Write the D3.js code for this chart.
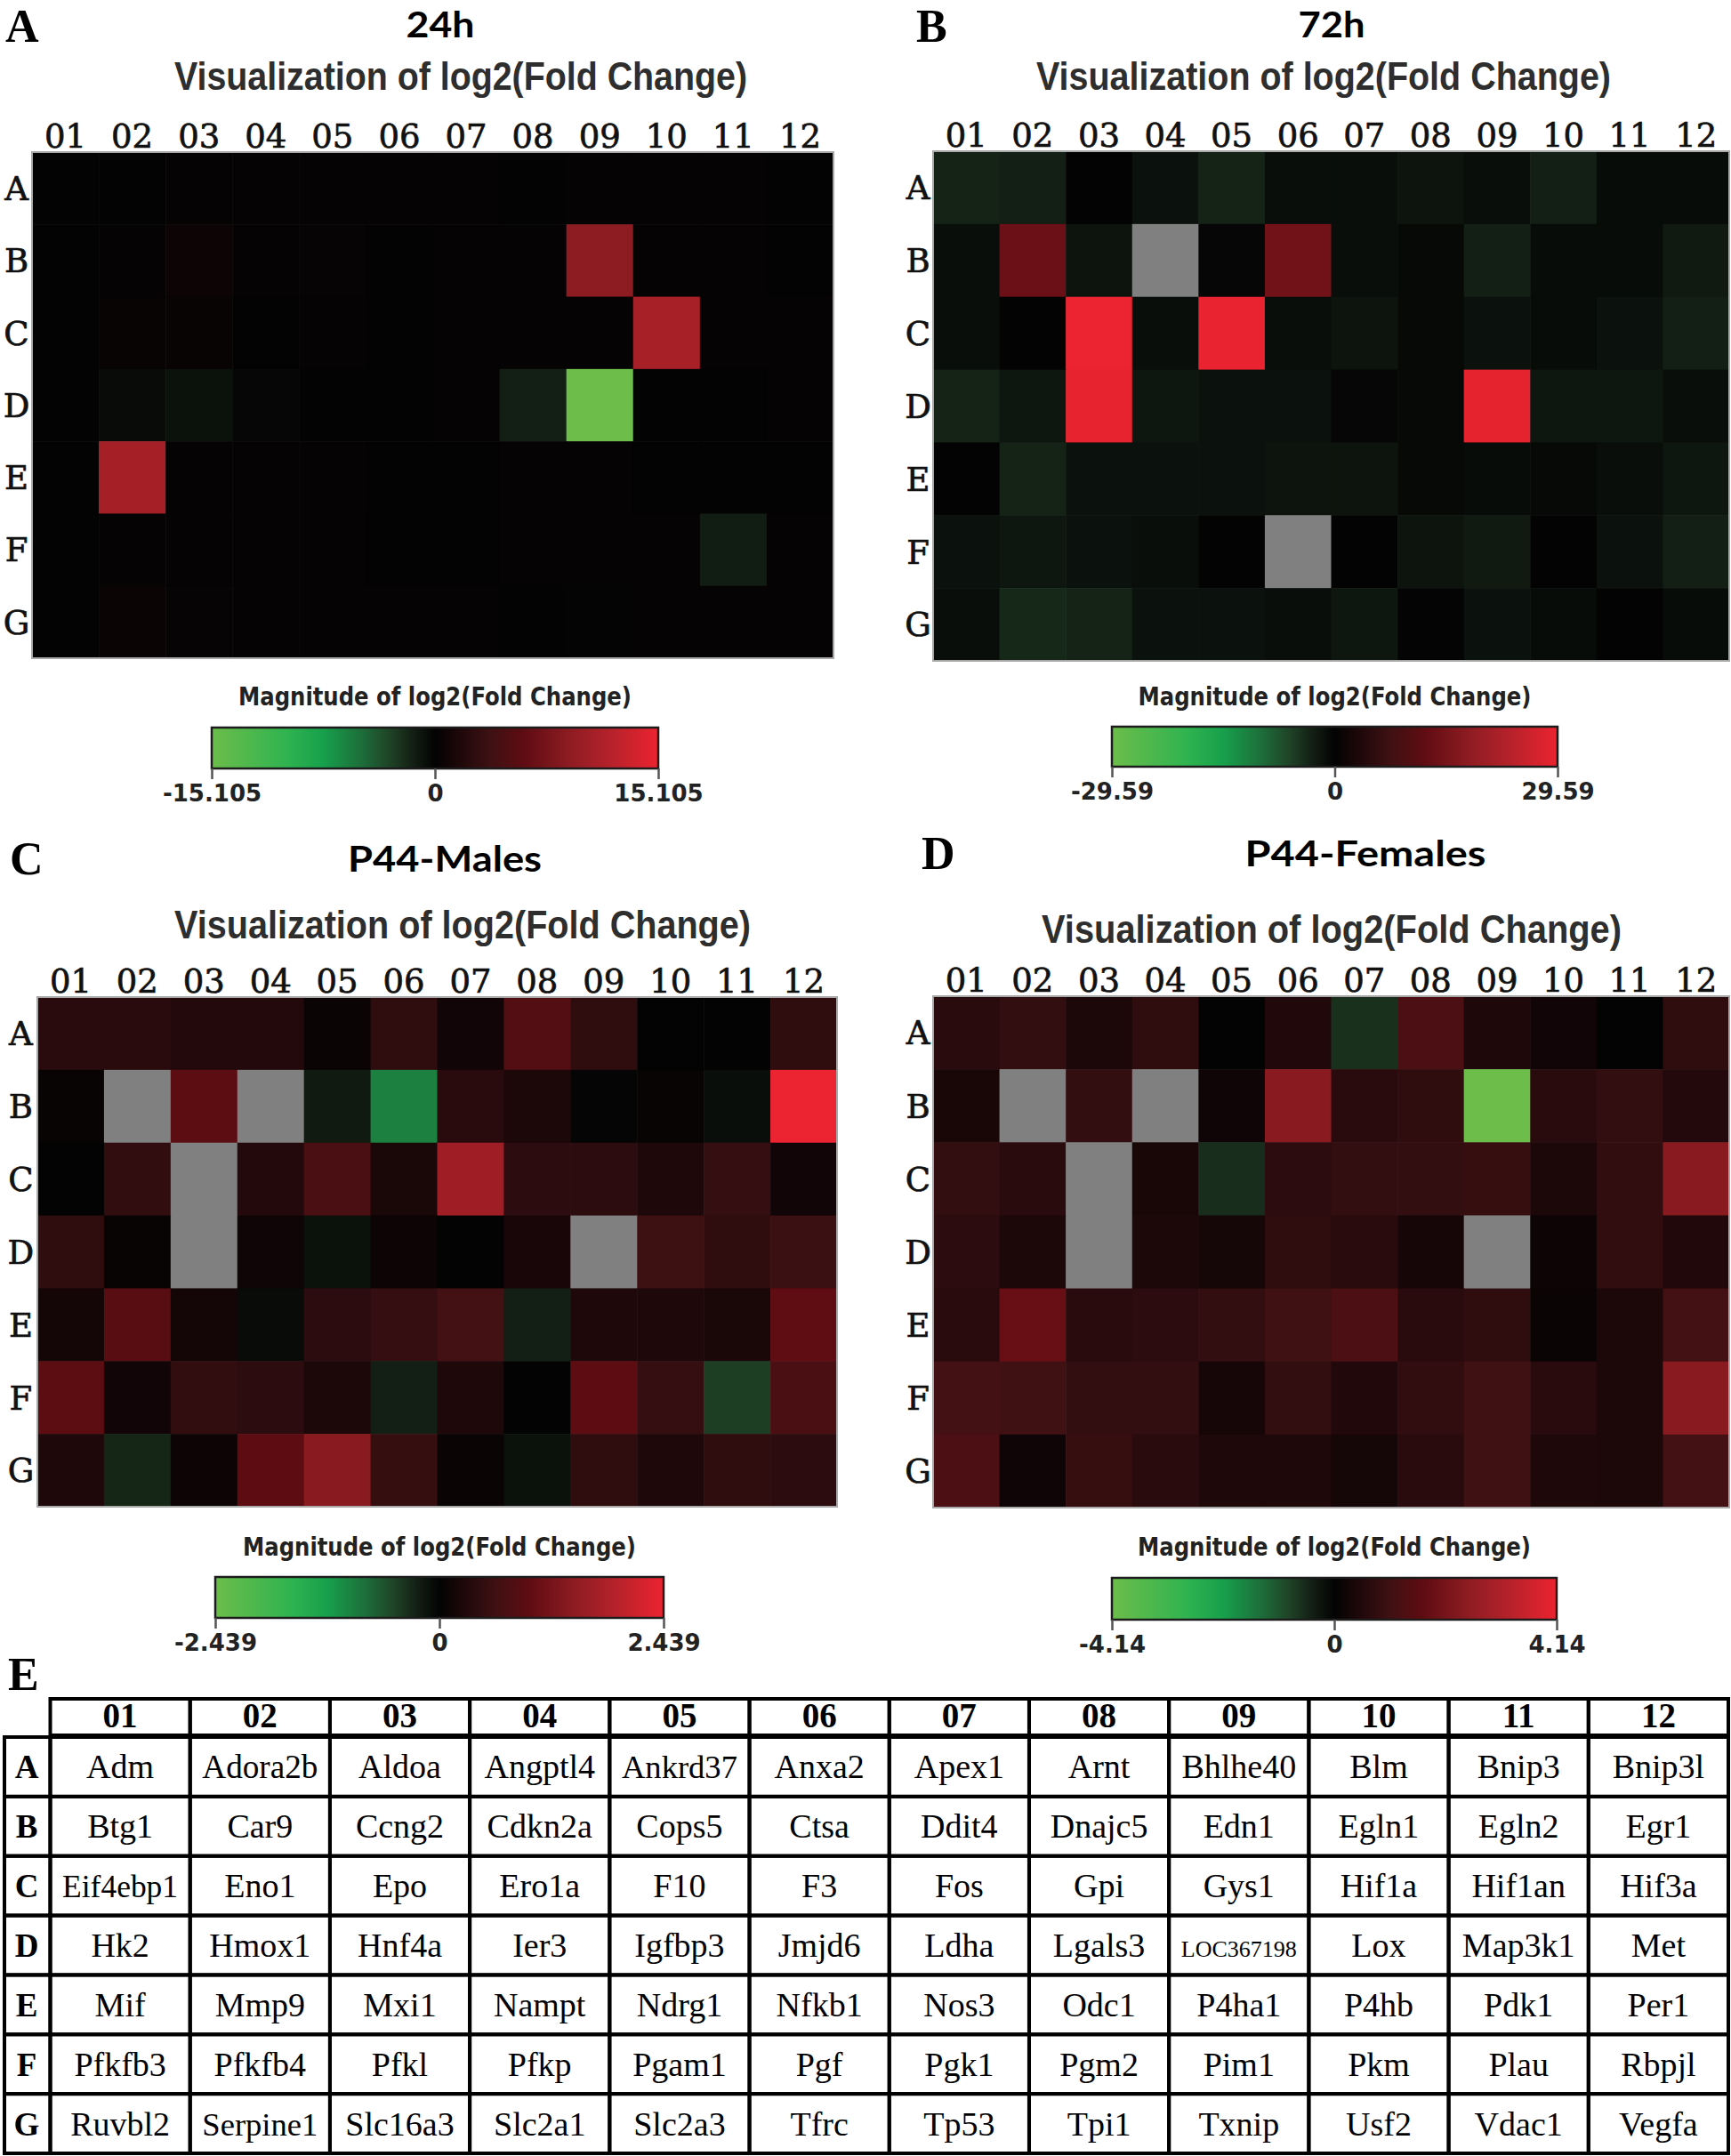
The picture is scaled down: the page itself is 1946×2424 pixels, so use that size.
<!DOCTYPE html>
<html>
<head>
<meta charset="utf-8">
<script src="https://cdn.jsdelivr.net/npm/d3@7"></script>
<style>
  body { margin: 0; background: #fff; }
  svg { display: block; }
</style>
</head>
<body>
<script>
// plate layout
const cols = ['01', '02', '03', '04', '05', '06', '07', '08', '09', '10', '11', '12'];
const rows = ['A', 'B', 'C', 'D', 'E', 'F', 'G'];

// log2(fold change) per well (null = grey / no call)
const fold24h = [
  [0.08, 0.05, 0.1, 0.1, 0.15, 0.1, 0.15, 0.05, 0.15, 0.15, 0.1, 0.05],
  [0.05, 0.1, 0.6, 0.1, 0.2, 0.05, 0.1, 0.1, 9.06, 0.15, 0.15, 0.05],
  [0.05, 0.3, 0.35, 0.05, 0.1, 0.05, 0.1, 0.15, 0.15, 10.9, 0.1, 0.15],
  [0.05, -0.45, -0.75, -0.15, 0.0, 0.05, 0.1, -1.5, -15.105, 0.0, 0.0, 0.1],
  [0.0, 10.7, 0.1, 0.1, 0.1, 0.05, 0.0, 0.15, 0.1, 0.0, 0.0, 0.05],
  [0.0, 0.1, 0.1, 0.1, 0.1, 0.0, 0.0, 0.15, 0.1, 0.1, -1.35, 0.1],
  [0.0, 0.5, 0.2, 0.1, 0.1, 0.1, 0.1, 0.0, -0.05, 0.1, 0.1, 0.1]
];
const fold72h = [
  [-3.3, -3.0, 0.0, -1.5, -3.3, -1.2, -1.2, -1.8, -1.2, -3.0, -0.9, -0.9],
  [-1.2, 13.3, -1.8, null, -0.3, 14.2, -1.2, -0.6, -3.0, -0.9, -0.9, -2.4],
  [-1.2, 0.0, 29.59, -1.2, 29.3, -1.2, -1.8, -0.6, -1.5, -0.9, -1.5, -3.0],
  [-3.3, -2.1, 29.0, -2.1, -1.5, -1.5, -0.3, -0.6, 28.7, -2.1, -2.1, -1.2],
  [0.0, -3.3, -1.5, -1.5, -1.5, -1.8, -1.8, -0.6, -0.9, -0.6, -1.2, -2.1],
  [-1.5, -2.1, -1.5, -1.2, 0.0, null, 0.0, -1.8, -2.4, 0.0, -1.5, -3.0],
  [-1.2, -3.8, -3.3, -1.5, -1.5, -1.2, -2.1, -0.1, -1.5, -0.9, 0.0, -0.9]
];
const foldMales = [
  [0.39, 0.39, 0.32, 0.32, 0.07, 0.44, 0.15, 0.83, 0.44, 0.0, 0.0, 0.44],
  [0.05, null, 0.93, null, -0.2, -0.95, 0.39, 0.24, -0.02, 0.05, -0.1, 2.439],
  [0.0, 0.46, null, 0.32, 0.73, 0.22, 1.66, 0.41, 0.41, 0.27, 0.49, 0.15],
  [0.44, 0.05, null, 0.12, -0.12, 0.1, 0.0, 0.2, null, 0.59, 0.44, 0.56],
  [0.17, 0.9, 0.17, -0.07, 0.41, 0.49, 0.66, -0.24, 0.27, 0.27, 0.22, 0.98],
  [0.93, 0.15, 0.46, 0.41, 0.24, -0.24, 0.27, 0.0, 0.95, 0.49, -0.46, 0.73],
  [0.27, -0.29, 0.1, 0.95, 1.41, 0.51, 0.07, -0.12, 0.44, 0.27, 0.44, 0.41]
];
const foldFemales = [
  [0.66, 0.83, 0.41, 0.75, 0.0, 0.5, -0.62, 1.28, 0.46, 0.25, 0.0, 0.75],
  [0.37, null, 0.83, null, 0.21, 2.4, 0.66, 0.75, -4.14, 0.66, 0.83, 0.54],
  [0.83, 0.66, null, 0.37, -0.58, 0.7, 0.83, 0.83, 0.87, 0.41, 0.79, 2.4],
  [0.7, 0.41, null, 0.41, 0.29, 0.75, 0.66, 0.33, null, 0.17, 0.79, 0.5],
  [0.66, 1.82, 0.66, 0.7, 0.83, 1.04, 1.28, 0.66, 0.75, 0.12, 0.41, 1.12],
  [1.12, 1.04, 0.83, 0.83, 0.33, 0.83, 0.5, 0.79, 1.04, 0.66, 0.41, 2.4],
  [1.28, 0.21, 0.87, 0.66, 0.46, 0.46, 0.29, 0.66, 1.04, 0.46, 0.41, 1.12]
];

const panelIds = ['A', 'B', 'C', 'D'];
const panelTitles = ['24h', '72h', 'P44-Males', 'P44-Females'];
const colorMax = [15.105, 29.59, 2.439, 4.14];

// colour bar stops, as a fraction of the bar's max
const gradFrac = [-1, -0.66, -0.5, -0.33, -0.2, -0.1, 0, 0.1, 0.25, 0.4, 0.6, 0.8, 1];
const gradColors = ['#6cbd4a', '#2fb350', '#17a04c', '#1d6e3a', '#1f4226', '#131f14', '#030303',
                    '#1c0709', '#3f1113', '#5f0c12', '#8d1c22', '#b9222b', '#ec2330'];

const genes = [
  ['Adm', 'Adora2b', 'Aldoa', 'Angptl4', 'Ankrd37', 'Anxa2', 'Apex1', 'Arnt', 'Bhlhe40', 'Blm', 'Bnip3', 'Bnip3l'],
  ['Btg1', 'Car9', 'Ccng2', 'Cdkn2a', 'Cops5', 'Ctsa', 'Ddit4', 'Dnajc5', 'Edn1', 'Egln1', 'Egln2', 'Egr1'],
  ['Eif4ebp1', 'Eno1', 'Epo', 'Ero1a', 'F10', 'F3', 'Fos', 'Gpi', 'Gys1', 'Hif1a', 'Hif1an', 'Hif3a'],
  ['Hk2', 'Hmox1', 'Hnf4a', 'Ier3', 'Igfbp3', 'Jmjd6', 'Ldha', 'Lgals3', 'LOC367198', 'Lox', 'Map3k1', 'Met'],
  ['Mif', 'Mmp9', 'Mxi1', 'Nampt', 'Ndrg1', 'Nfkb1', 'Nos3', 'Odc1', 'P4ha1', 'P4hb', 'Pdk1', 'Per1'],
  ['Pfkfb3', 'Pfkfb4', 'Pfkl', 'Pfkp', 'Pgam1', 'Pgf', 'Pgk1', 'Pgm2', 'Pim1', 'Pkm', 'Plau', 'Rbpjl'],
  ['Ruvbl2', 'Serpine1', 'Slc16a3', 'Slc2a1', 'Slc2a3', 'Tfrc', 'Tp53', 'Tpi1', 'Txnip', 'Usf2', 'Vdac1', 'Vegfa']
];

// where each panel sits on the page
const layout = [
  {letter: [6, 47], title: [495, 42, 77], sub: [518, 101, 644], hm: [36, 171, 937, 740], rowLabX: 18.5,
   bar: [238, 818, 740, 864], barTitleY: 793},
  {letter: [1030, 47], title: [1497, 42, 75], sub: [1488, 101, 646], hm: [1049, 170, 1944, 743], rowLabX: 1032,
   bar: [1250, 817, 1751, 862], barTitleY: 793},
  {letter: [11, 983], title: [500, 980, 218], sub: [520, 1055, 648], hm: [42, 1121, 941, 1694], rowLabX: 23.4,
   bar: [242, 1773, 746, 1819], barTitleY: 1749},
  {letter: [1036, 977], title: [1535, 974, 271], sub: [1497, 1060, 652], hm: [1049, 1120, 1944, 1695], rowLabX: 1032,
   bar: [1250, 1774, 1750, 1821], barTitleY: 1749}
];
const allValues = [fold24h, fold72h, foldMales, foldFemales];

const W = 1946, H = 2424;
const svg = d3.select('body').append('svg').attr('width', W).attr('height', H);
const defs = svg.append('defs');

function drawPanel(i) {
  const p = layout[i], values = allValues[i], max = colorMax[i];
  const g = svg.append('g');

  g.append('text')
    .attr('x', p.letter[0]).attr('y', p.letter[1])
    .attr('font-family', 'Liberation Serif').attr('font-weight', 'bold').attr('font-size', 52)
    .text(panelIds[i]);

  g.append('text')
    .attr('x', p.title[0]).attr('y', p.title[1])
    .attr('text-anchor', 'middle')
    .attr('font-family', 'Lato').attr('font-weight', 700).attr('font-size', 41)
    .attr('textLength', p.title[2]).attr('lengthAdjust', 'spacingAndGlyphs')
    .text(panelTitles[i]);

  g.append('text')
    .attr('x', p.sub[0]).attr('y', p.sub[1])
    .attr('text-anchor', 'middle')
    .attr('font-family', 'Liberation Sans').attr('font-weight', 'bold').attr('font-size', 44)
    .attr('fill', '#2e2e2e')
    .attr('textLength', p.sub[2]).attr('lengthAdjust', 'spacingAndGlyphs')
    .text('Visualization of log2(Fold Change)');

  const x = d3.scaleBand().domain(cols).range([p.hm[0], p.hm[2]]);
  const y = d3.scaleBand().domain(rows).range([p.hm[1], p.hm[3]]);
  const color = d3.scaleLinear()
    .domain(gradFrac.map(f => f * max))
    .range(gradColors)
    .clamp(true);

  const cells = values.flatMap((r, ri) => r.map((v, ci) => ({row: rows[ri], col: cols[ci], v: v})));

  g.append('g').selectAll('rect')
    .data(cells)
    .join('rect')
    .attr('x', d => x(d.col))
    .attr('y', d => y(d.row))
    .attr('width', x.bandwidth() + 0.6)
    .attr('height', y.bandwidth() + 0.6)
    .attr('fill', d => d.v == null ? '#808080' : color(d.v));

  g.append('rect')
    .attr('x', p.hm[0]).attr('y', p.hm[1])
    .attr('width', p.hm[2] - p.hm[0]).attr('height', p.hm[3] - p.hm[1])
    .attr('fill', 'none').attr('stroke', '#a8a8a8').attr('stroke-width', 2);

  // column numbers on top
  g.append('g')
    .attr('transform', `translate(0,${p.hm[1]})`)
    .call(d3.axisTop(x).tickSize(0).tickPadding(5))
    .call(a => a.select('.domain').remove())
    .selectAll('text')
    .attr('font-family', 'DejaVu Serif').attr('font-size', 37).attr('fill', '#111')
    .attr('stroke', '#111').attr('stroke-width', 0.7);

  // row letters on the left
  g.append('g')
    .attr('transform', `translate(${p.hm[0]},0)`)
    .call(d3.axisLeft(y).tickSize(0))
    .call(a => a.select('.domain').remove())
    .selectAll('text')
    .attr('x', p.rowLabX - p.hm[0])
    .attr('dy', '0.36em')
    .attr('text-anchor', 'middle')
    .attr('font-family', 'DejaVu Serif').attr('font-size', 37).attr('fill', '#111')
    .attr('stroke', '#111').attr('stroke-width', 0.7);

  // colour bar
  const b = p.bar;
  const gid = 'grad' + panelIds[i];
  const lg = defs.append('linearGradient').attr('id', gid);
  gradFrac.forEach((f, k) => {
    lg.append('stop').attr('offset', (f + 1) / 2).attr('stop-color', gradColors[k]);
  });

  g.append('text')
    .attr('x', (b[0] + b[2]) / 2).attr('y', p.barTitleY)
    .attr('text-anchor', 'middle')
    .attr('font-family', 'DejaVu Sans').attr('font-weight', 'bold').attr('font-size', 28)
    .attr('fill', '#222')
    .attr('textLength', 442).attr('lengthAdjust', 'spacingAndGlyphs')
    .text('Magnitude of log2(Fold Change)');

  g.append('rect')
    .attr('x', b[0]).attr('y', b[1])
    .attr('width', b[2] - b[0]).attr('height', b[3] - b[1])
    .attr('fill', `url(#${gid})`)
    .attr('stroke', '#1c1c1c').attr('stroke-width', 2.5);

  const cs = d3.scaleLinear().domain([-max, max]).range([b[0], b[2]]);
  const ax = g.append('g')
    .attr('transform', `translate(0,${b[3]})`)
    .call(d3.axisBottom(cs).tickValues([-max, 0, max]).tickSize(12).tickPadding(7)
      .tickFormat(d => d === 0 ? '0' : String(d)))
    .call(a => a.select('.domain').remove());
  ax.selectAll('line').attr('stroke', '#555').attr('stroke-width', 2.5);
  ax.selectAll('text')
    .attr('font-family', 'DejaVu Sans').attr('font-weight', 'bold').attr('font-size', 26)
    .attr('fill', '#222');
}

panelIds.forEach((id, i) => drawPanel(i));

// ---- panel E: gene table ----
const tg = svg.append('g');
tg.append('text')
  .attr('x', 9).attr('y', 1900)
  .attr('font-family', 'Liberation Serif').attr('font-weight', 'bold').attr('font-size', 52)
  .text('E');

const tx = d3.scaleBand().domain(cols).range([56.5, 1943]);
const ty = d3.scaleBand().domain(rows).range([1953, 2421]);
const lineW = 4;

// header row
tg.append('g').selectAll('rect')
  .data(cols).join('rect')
  .attr('x', d => tx(d)).attr('y', 1910)
  .attr('width', tx.bandwidth()).attr('height', 41)
  .attr('fill', 'none').attr('stroke', '#000').attr('stroke-width', lineW);
tg.append('g').selectAll('text')
  .data(cols).join('text')
  .attr('x', d => tx(d) + tx.bandwidth() / 2).attr('y', 1942)
  .attr('text-anchor', 'middle')
  .attr('font-family', 'Liberation Serif').attr('font-weight', 'bold').attr('font-size', 39)
  .text(d => d);

// row letter column
tg.append('g').selectAll('rect')
  .data(rows).join('rect')
  .attr('x', 5).attr('y', d => ty(d))
  .attr('width', 56.5 - 5).attr('height', ty.bandwidth())
  .attr('fill', 'none').attr('stroke', '#000').attr('stroke-width', lineW);
tg.append('g').selectAll('text')
  .data(rows).join('text')
  .attr('x', 30).attr('y', d => ty(d) + ty.bandwidth() / 2 + 13)
  .attr('text-anchor', 'middle')
  .attr('font-family', 'Liberation Serif').attr('font-weight', 'bold').attr('font-size', 37)
  .text(d => d);

const geneCells = genes.flatMap((r, ri) => r.map((name, ci) => ({row: rows[ri], col: cols[ci], name: name})));
tg.append('g').selectAll('rect')
  .data(geneCells).join('rect')
  .attr('x', d => tx(d.col)).attr('y', d => ty(d.row))
  .attr('width', tx.bandwidth()).attr('height', ty.bandwidth())
  .attr('fill', 'none').attr('stroke', '#000').attr('stroke-width', lineW);

const baseFs = 38, maxTextW = 130;
tg.append('g').selectAll('text')
  .data(geneCells).join('text')
  .attr('x', d => tx(d.col) + tx.bandwidth() / 2)
  .attr('y', d => ty(d.row) + ty.bandwidth() / 2 + 13)
  .attr('text-anchor', 'middle')
  .attr('font-family', 'Liberation Serif').attr('font-size', baseFs)
  .text(d => d.name)
  .each(function () {
    const len = this.getComputedTextLength();
    if (len > maxTextW) {
      d3.select(this).attr('font-size', baseFs * maxTextW / len);
    }
  });
</script>
</body>
</html>
